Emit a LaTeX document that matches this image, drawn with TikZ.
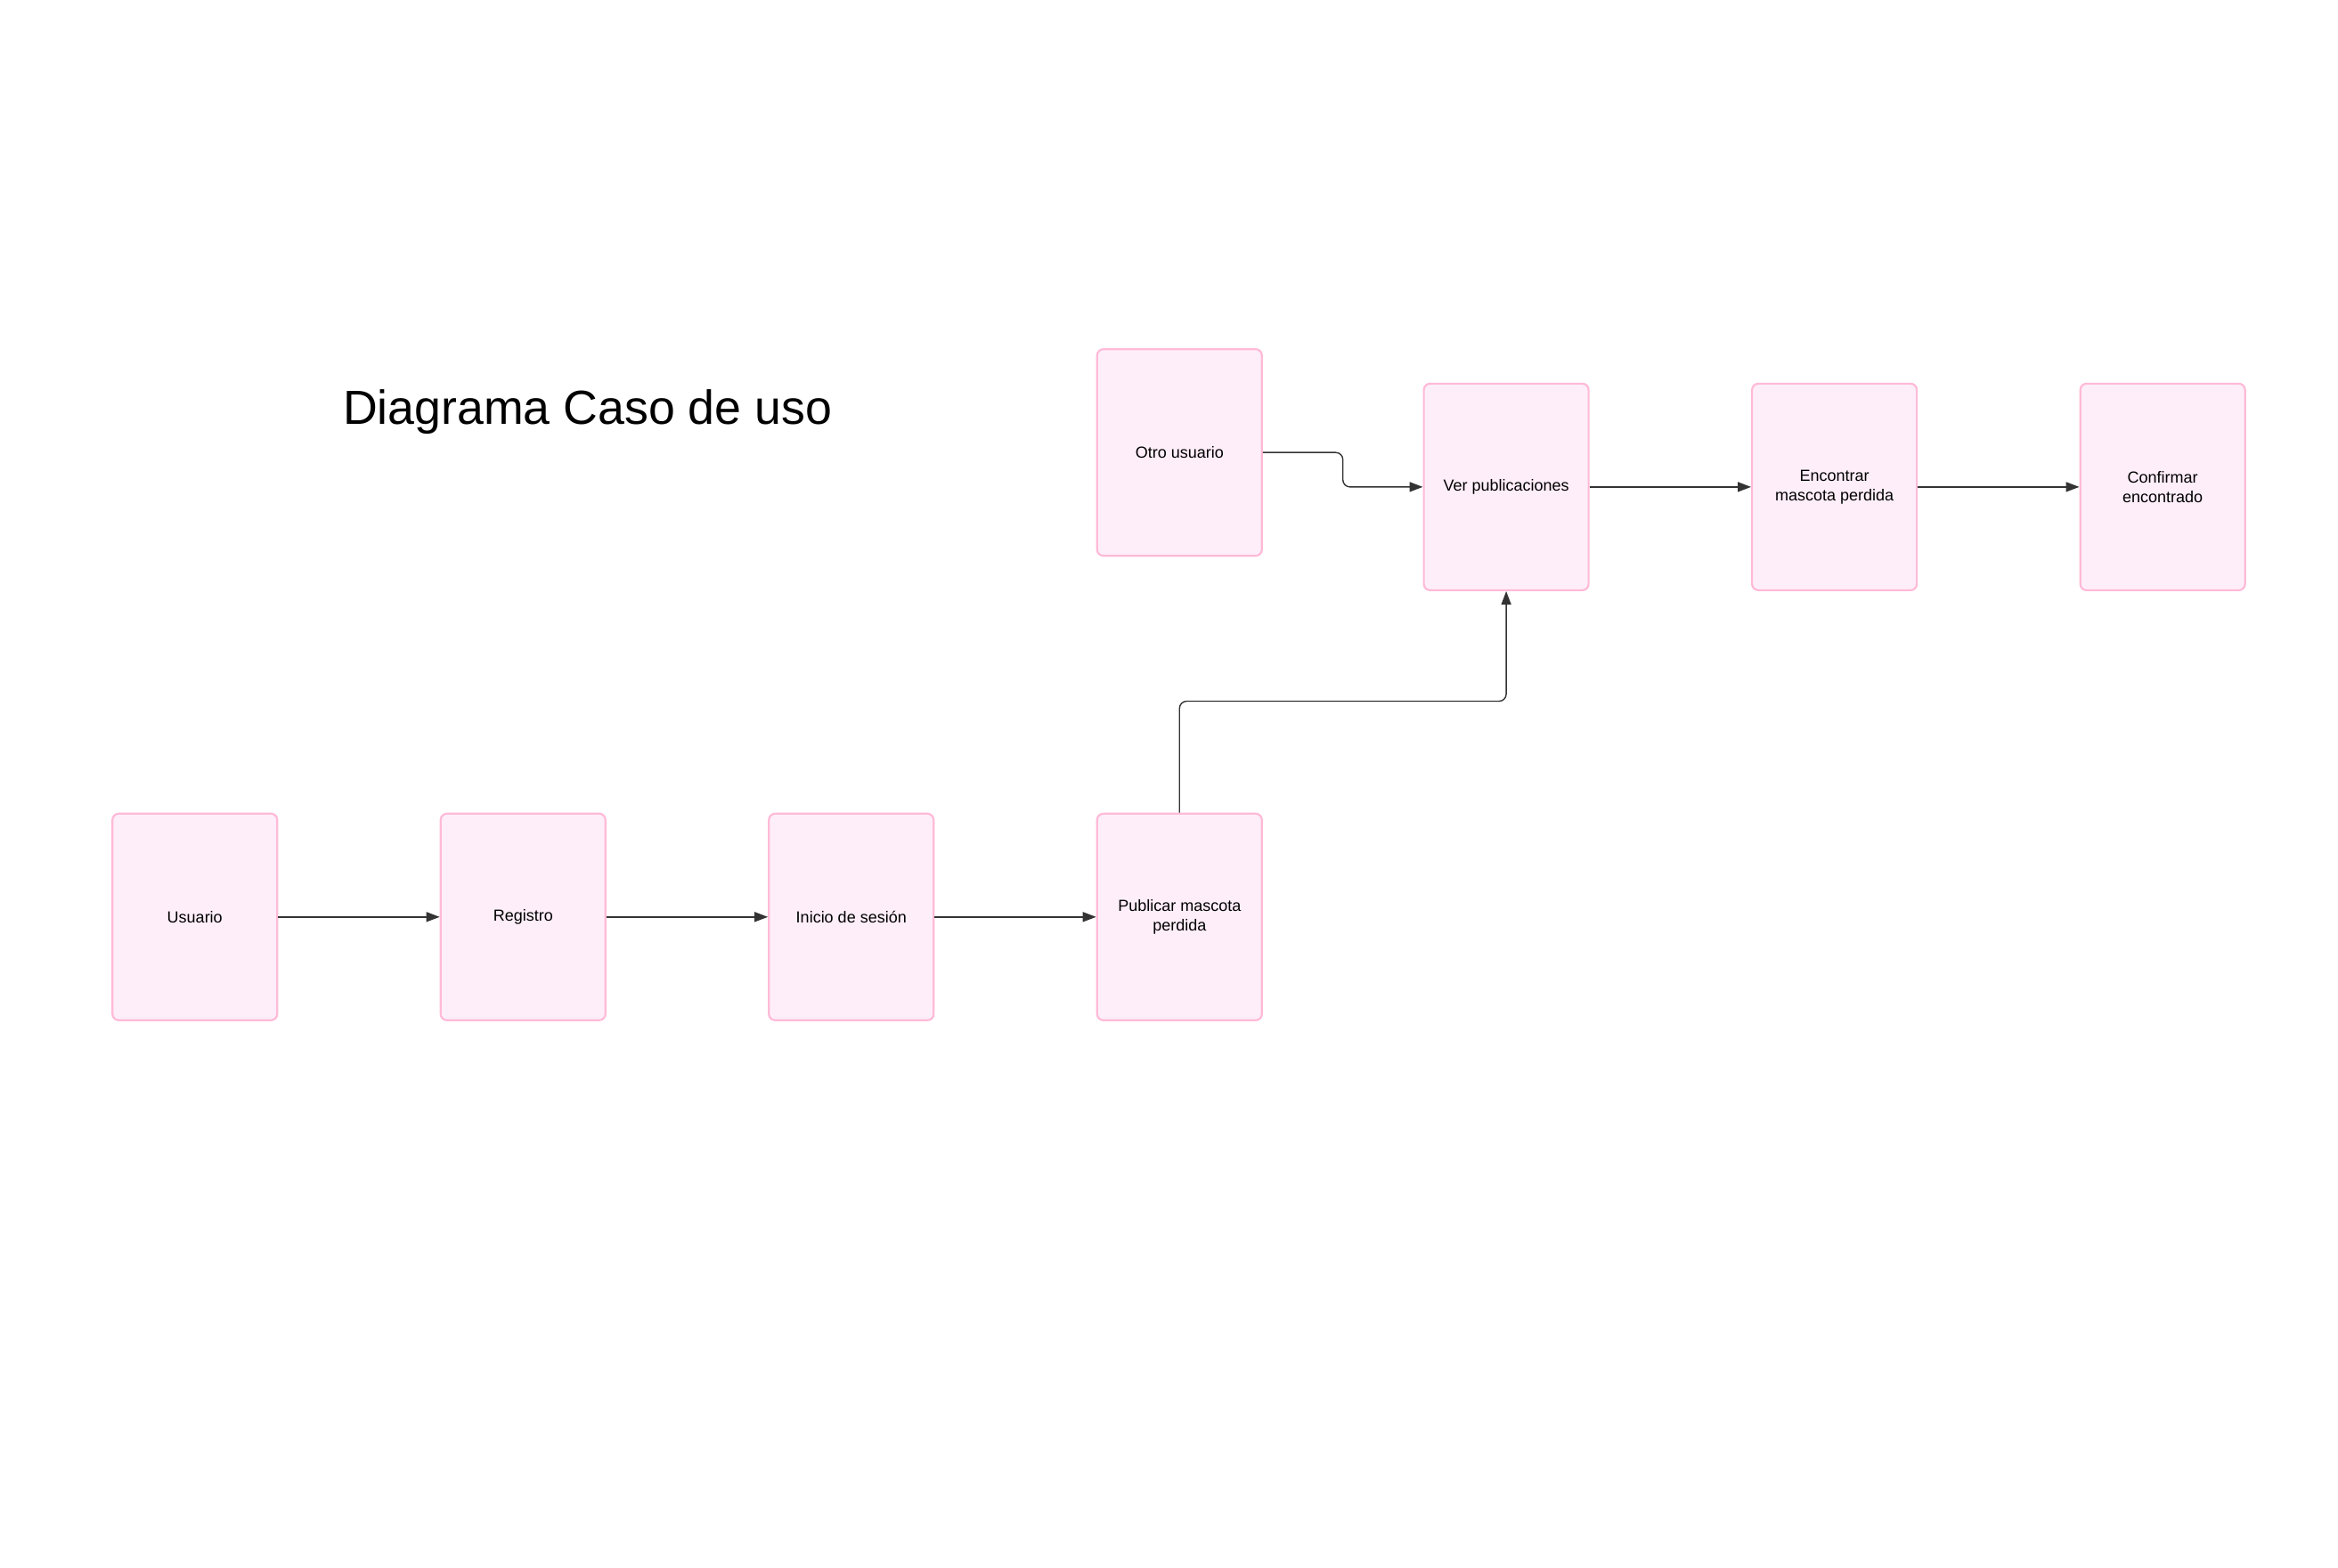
\documentclass[tikz,border=0pt]{standalone}
\usepackage{fontspec}
\setmainfont{Liberation Sans}
\usepackage{tikz}
\usetikzlibrary{arrows.meta, calc}
\definecolor{cajaFill}{HTML}{FEEEF9}
\definecolor{cajaBorde}{HTML}{FFBAD8}
\definecolor{flecha}{HTML}{333333}

\begin{document}
\begin{tikzpicture}[x=1.6827pt, y=-1.6827pt,
    caso/.style={draw=cajaBorde, fill=cajaFill, line width=2.2pt, rounded corners=7pt,
        minimum width=185pt, minimum height=232pt, align=center,
        font=\fontsize{18}{21.6}\selectfont, inner sep=2pt},
    conn/.style={draw=flecha, line width=1.4pt, -{Triangle[length=15pt, width=11pt]}}]
    \useasboundingbox (0,0) rectangle (1560,1046);

    % titulo
    \node (titulo) at (392,275) {\fontsize{53.7}{64}\selectfont Diagrama Caso de uso};

    % fila de abajo
    \node[caso] (usuario) at (130,612) {Usuario};
    \node[caso] (registro) at (349,612) {Registro};
    \node[caso] (inicio) at (568,612) {Inicio de sesión};
    \node[caso] (publicar) at (787,612) {Publicar mascota\\perdida};

    % fila de arriba
    \node[caso] (otro) at (787,302) {Otro usuario};
    \node[caso] (ver) at (1005,325) {Ver publicaciones};
    \node[caso] (encontrar) at (1224,325) {Encontrar\\mascota perdida};
    \node[caso] (confirmar) at (1443,325) {Confirmar\\encontrado};

    % flechas
    \draw[conn] (usuario.east) -- (registro.west);
    \draw[conn] (registro.east) -- (inicio.west);
    \draw[conn] (inicio.east) -- (publicar.west);
    \draw[conn] (ver.east) -- (encontrar.west);
    \draw[conn] (encontrar.east) -- (confirmar.west);

    \coordinate (medio) at ($(otro.east)!0.5!(ver.west)$);
    \draw[conn, rounded corners=8pt] (otro.east) -| (medio) |- (ver.west);

    \coordinate (codo) at (896,468);
    \draw[conn, rounded corners=8pt] (publicar.north) |- (codo) -| (ver.south);
\end{tikzpicture}
\end{document}
